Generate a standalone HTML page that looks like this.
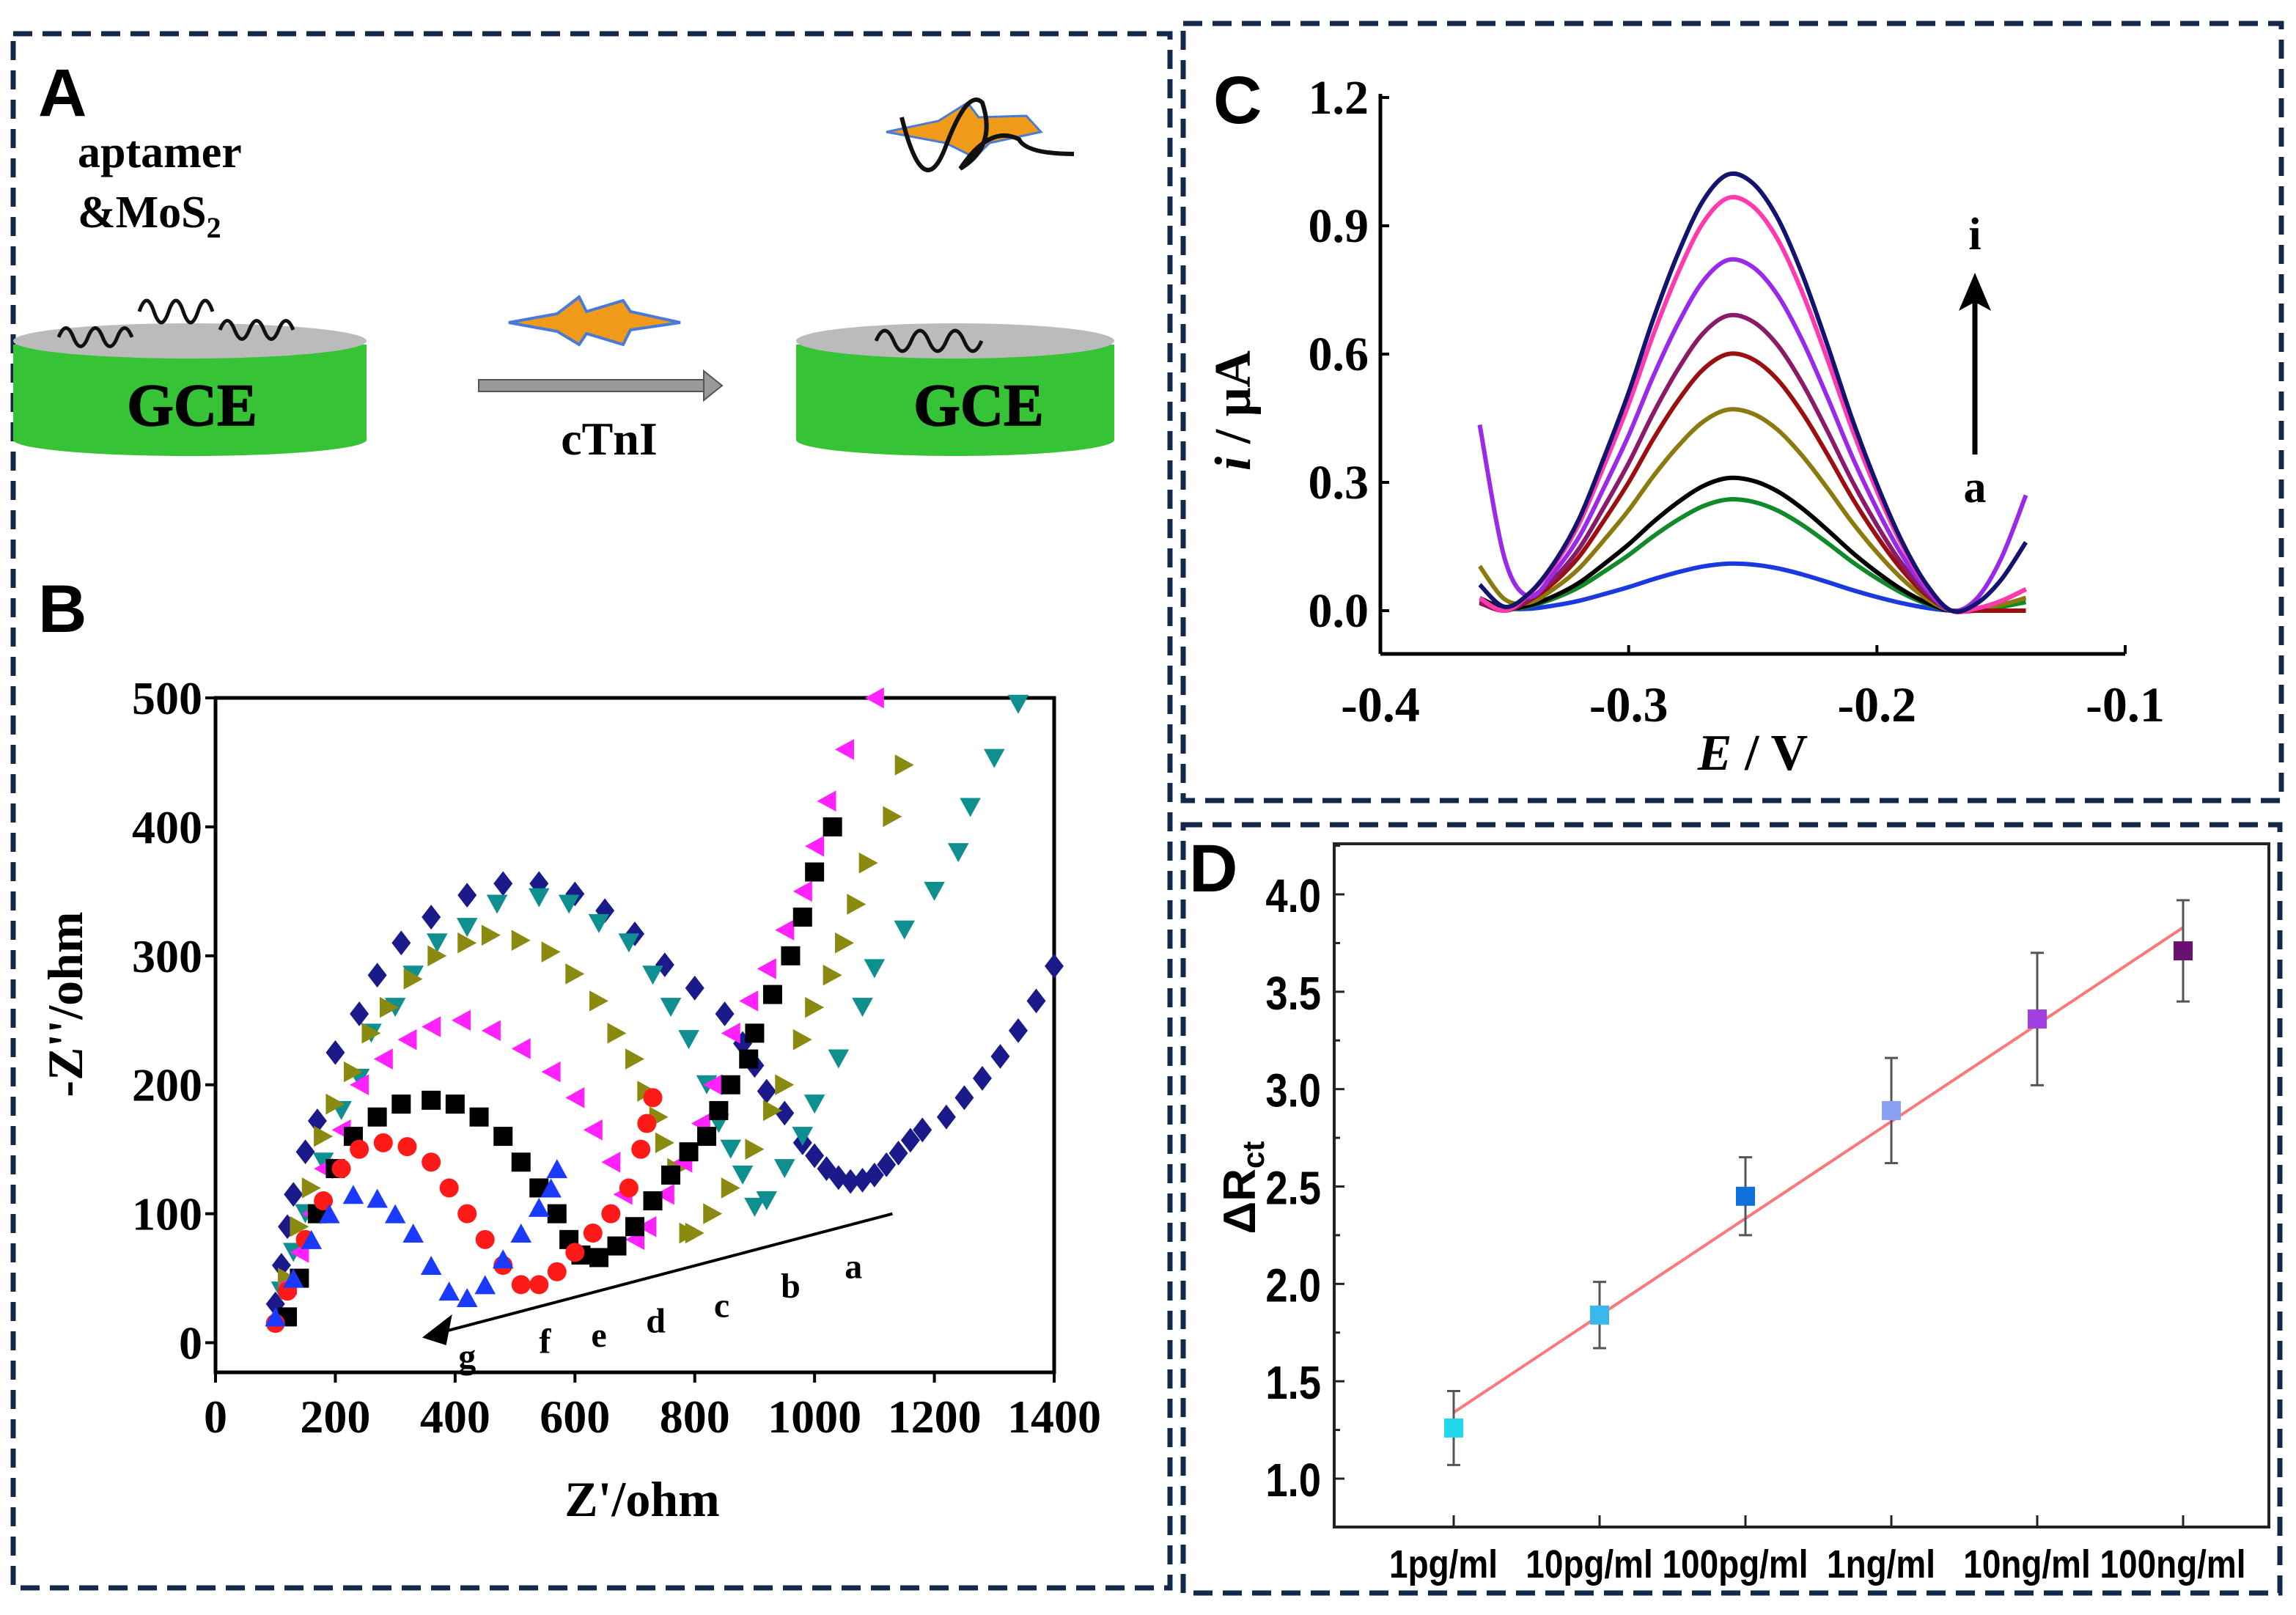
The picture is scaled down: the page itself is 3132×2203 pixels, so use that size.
<!DOCTYPE html>
<html><head><meta charset="utf-8"><style>
html,body{margin:0;padding:0;background:#fff}
svg{display:block}
.serif{font-family:"Liberation Serif",serif;font-weight:bold}
.sans{font-family:"Liberation Sans",sans-serif;font-weight:bold}
</style></head><body>
<svg id="fig" width="3132" height="2203" viewBox="0 0 3132 2203" xmlns="http://www.w3.org/2000/svg">
<rect width="3132" height="2203" fill="#fff"/>
<g fill="none" stroke="#13294b" stroke-width="7" stroke-dasharray="26,14">
<rect x="18" y="46" width="1578" height="2120"/>
<rect x="1614" y="32" width="1498" height="1060"/>
<rect x="1614" y="1125" width="1496" height="1048"/>
</g>
<!-- Panel A -->
<g>
<text class="sans" x="52" y="158" font-size="92">A</text>
<text class="serif" x="106" y="228" font-size="62">aptamer</text>
<text class="serif" x="106" y="310" font-size="62">&amp;MoS<tspan font-size="40" dy="14">2</tspan></text>
<g>
<path d="M18 470 L18 600 A240 22 0 0 0 500 600 L500 470 Z" fill="#36c336"/>
<ellipse cx="259" cy="465" rx="241" ry="24" fill="#bbb"/>
<text class="serif" x="262" y="580" font-size="82" text-anchor="middle" stroke="#000" stroke-width="1.5">GCE</text>
<path d="M80 460 q10 -25 20 0 t20 0 t20 0 t20 0 t20 0 M190 425 q10 -30 20 0 t20 0 t20 0 t20 0 t20 0 M300 450 q10 -25 20 0 t20 0 t20 0 t20 0 t20 0" fill="none" stroke="#111" stroke-width="5"/>
</g>
<g>
<path d="M1086 470 L1086 600 A217 22 0 0 0 1520 600 L1520 470 Z" fill="#36c336"/>
<ellipse cx="1303" cy="465" rx="217" ry="24" fill="#bbb"/>
<text class="serif" x="1335" y="580" font-size="82" text-anchor="middle" stroke="#000" stroke-width="1.5">GCE</text>
<path d="M1195 465 q12 -28 24 0 t24 0 t24 0 t24 0 t24 0 t24 0" fill="none" stroke="#111" stroke-width="5"/>
</g>
<g>
<rect x="653" y="518" width="310" height="16" fill="#999" stroke="#555" stroke-width="2"/>
<polygon points="960,506 985,526 960,546" fill="#999" stroke="#555" stroke-width="2"/>
</g>
<text class="serif" x="831" y="620" font-size="64" text-anchor="middle">cTnI</text>
<polygon points="694,440 760,428 790,405 800,425 850,410 860,425 928,440 860,450 850,470 800,455 790,470 760,452" fill="#f09a1a" stroke="#4a7ad8" stroke-width="4"/>
<g>
<polygon points="1209,180 1280,165 1320,140 1335,160 1400,158 1420,180 1350,195 1330,215 1290,195" fill="#f09a1a" stroke="#4a7ad8" stroke-width="3"/>
<path d="M1230 160 q30 120 60 40 q30 -80 50 -60 q20 60 -30 90 q40 -60 80 -40 q10 20 75 20" fill="none" stroke="#111" stroke-width="6"/>
</g>
</g>
<text class="sans" x="52" y="862" font-size="92">B</text>
<text class="sans" x="1655" y="168" font-size="92">C</text>
<text class="sans" x="1622" y="1216" font-size="92">D</text>
<g id="chartB"></g>
<g id="chartC"></g>
<g id="chartD"></g>
</svg>
<script>
const NS="http://www.w3.org/2000/svg";
function mk(p,tag,attrs,txt){const e=document.createElementNS(NS,tag);for(const k in attrs)e.setAttribute(k,attrs[k]);if(txt!==undefined)e.textContent=txt;p.appendChild(e);return e;}

// ---------- Panel B data ----------
const bSeriesNames=["a","b","c","d","e","f","g"];
const bXTicks=[0,200,400,600,800,1000,1200,1400];
const bYTicks=[0,100,200,300,400,500];
const bA_x=[100,110,120,130,150,170,200,240,270,310,360,420,480,540,600,650,700,750,800,850,880,900,920,950,980,1000,1020,1040,1060,1080,1100,1120,1140,1160,1180,1220,1250,1280,1310,1340,1370,1400];
const bA_y=[30,60,90,115,148,172,225,255,285,310,330,347,356,356,348,335,317,293,275,255,232,215,195,178,155,145,135,128,125,126,130,138,147,157,165,175,190,205,222,242,265,292];
const bB_x=[110,130,150,180,210,240,260,300,330,370,420,470,540,590,640,690,730,760,790,820,840,860,880,900,920,950,980,1000,1040,1080,1100,1150,1200,1240,1260,1300,1340];
const bB_y=[40,70,100,140,180,205,240,260,285,310,322,340,345,340,325,310,285,260,235,200,170,150,130,105,110,135,160,185,220,260,290,320,350,380,415,453,495];
const bC_x=[120,140,160,180,200,230,260,290,330,370,420,460,510,560,600,640,670,700,720,740,750,770,790,800,830,860,900,930,950,980,1000,1030,1050,1070,1090,1130,1150];
const bC_y=[50,90,120,160,185,210,240,260,282,300,310,316,312,303,286,265,240,220,195,175,155,135,85,85,100,120,150,180,200,235,260,285,310,340,372,408,448];
const bD_x=[120,140,160,180,210,240,280,320,360,410,460,510,560,600,630,660,680,700,720,750,780,810,830,860,890,920,950,980,1000,1020,1050,1100];
const bD_y=[45,70,100,135,165,200,220,235,245,250,242,228,210,190,165,140,115,80,90,115,140,170,200,240,265,290,320,350,385,420,460,500];
const bE_x=[120,140,170,200,230,270,310,360,400,440,480,510,540,570,590,610,640,670,700,730,760,790,820,840,860,890,900,930,960,980,1000,1030];
const bE_y=[20,50,100,135,160,175,185,188,185,175,160,140,120,100,80,68,66,75,90,110,130,148,160,180,200,220,240,270,300,330,365,400];
const bF_x=[100,120,150,180,210,240,280,320,360,390,420,450,480,510,540,570,600,630,660,690,710,720,730];
const bF_y=[15,40,80,110,135,150,155,152,140,120,100,80,60,45,45,55,70,85,100,120,150,170,190];
const bG_x=[100,130,160,190,230,270,300,330,360,390,420,450,480,510,540,560,570];
const bG_y=[20,50,80,100,115,112,100,85,60,40,35,45,65,85,105,120,135];
const bXs=[bA_x,bB_x,bC_x,bD_x,bE_x,bF_x,bG_x];
const bYs=[bA_y,bB_y,bC_y,bD_y,bE_y,bF_y,bG_y];
const bColors=["#1a1a8a","#0f8f8f","#8a8a10","#ff22ff","#000000","#ff1a1a","#1a3aff"];
const bShapes=["diamond","down","right","left","square","circle","up"];

(function(){
const g=document.getElementById('chartB');
const X0=294,X1=1438,Y0=1872,Y1=952;
const xmin=0,xmax=1400,ymin=-23,ymax=500;
const sx=v=>X0+(v-xmin)/(xmax-xmin)*(X1-X0);
const sy=v=>Y0-(v-ymin)/(ymax-ymin)*(Y0-Y1);
const fr=mk(g,'rect',{x:X0,y:Y1,width:X1-X0,height:Y0-Y1,fill:'none',stroke:'#000','stroke-width':5});

bXTicks.forEach(t=>{mk(g,'line',{x1:sx(t),x2:sx(t),y1:Y0,y2:Y0+14,stroke:'#000','stroke-width':4});
 const l=mk(g,'text',{x:sx(t),y:Y0+82,'font-size':64,'text-anchor':'middle',class:'serif'},t);
 });
bYTicks.forEach(t=>{mk(g,'line',{x1:X0-14,x2:X0,y1:sy(t),y2:sy(t),stroke:'#000','stroke-width':4});
 const l=mk(g,'text',{x:X0-18,y:sy(t)+22,'font-size':64,'text-anchor':'end',class:'serif'},t);
 });
const xt=mk(g,'text',{x:(X0+X1)/2+10,y:2068,'font-size':68,'text-anchor':'middle',class:'serif'},"Z'/ohm");

const yt=mk(g,'text',{x:0,y:0,'font-size':68,'text-anchor':'middle',class:'serif',transform:'translate(112,1370) rotate(-90)'},"-Z''/ohm");

const s=13;
bXs.forEach((xs,si)=>{
 const sg=mk(g,'g',{fill:bColors[si]});
 
 xs.forEach((xv,i)=>{const cx=sx(xv),cy=sy(bYs[si][i]);let m;
  switch(bShapes[si]){
   case 'diamond':m=mk(sg,'polygon',{points:`${cx},${cy-s*1.3} ${cx+s},${cy} ${cx},${cy+s*1.3} ${cx-s},${cy}`});break;
   case 'down':m=mk(sg,'polygon',{points:`${cx-s*1.1},${cy-s} ${cx+s*1.1},${cy-s} ${cx},${cy+s}`});break;
   case 'up':m=mk(sg,'polygon',{points:`${cx-s*1.1},${cy+s} ${cx+s*1.1},${cy+s} ${cx},${cy-s}`});break;
   case 'right':m=mk(sg,'polygon',{points:`${cx-s},${cy-s*1.1} ${cx-s},${cy+s*1.1} ${cx+s},${cy}`});break;
   case 'left':m=mk(sg,'polygon',{points:`${cx+s},${cy-s*1.1} ${cx+s},${cy+s*1.1} ${cx-s},${cy}`});break;
   case 'square':m=mk(sg,'rect',{x:cx-s,y:cy-s,width:2*s,height:2*s});break;
   default:m=mk(sg,'circle',{cx:cx,cy:cy,r:s});}
  });
});
const ar=mk(g,'g',{});
mk(ar,'line',{x1:sx(1130),y1:sy(100),x2:sx(360),y2:sy(6),stroke:'#000','stroke-width':4});
mk(ar,'polygon',{points:`${sx(345)},${sy(4)} ${sx(395)},${sy(22)} ${sx(385)},${sy(-2)}`,fill:'#000'});
const lab=[["a",1065,50],["b",960,35],["c",845,20],["d",735,8],["e",640,-3],["f",550,-8],["g",420,-20]];
lab.forEach(l=>{const t=mk(g,'text',{x:sx(l[1]),y:sy(l[2]),'font-size':48,'text-anchor':'middle',class:'serif'},l[0]);
 });
})();

// ---------- Panel C data ----------
const cE=[-0.36,-0.35,-0.34,-0.33,-0.32,-0.31,-0.30,-0.29,-0.28,-0.27,-0.26,-0.25,-0.24,-0.23,-0.22,-0.21,-0.20,-0.19,-0.18,-0.17,-0.16,-0.15,-0.14];
const cShape=[0.03,0,0.04,0.11,0.21,0.35,0.5,0.67,0.82,0.94,1.0,0.98,0.9,0.77,0.61,0.44,0.29,0.16,0.06,0,0,0,0];
const cPeaks=[0.11,0.26,0.31,0.47,0.60,0.69,0.82,0.965,1.02];
const cLeftEnd=[0.02,0.01,0.02,0.09,0.0,0.0,0.41,0.0,0.03];
const cRightEnd=[0.0,0.02,0.05,0.03,0.0,0.05,0.27,0.05,0.16];
const cColors=["#1a3ae0","#128a2a","#000000","#8a7a10","#9a1010","#8a1a6a","#9a2ae8","#ff3ab0","#14146e"];
const cNames=["a","b","c","d","e","f","g","h","i"];
const cXTicks=[-0.4,-0.3,-0.2,-0.1];
const cYTicks=[0.0,0.3,0.6,0.9,1.2];
(function(){
const g=document.getElementById('chartC');
const X0=1883,X1=2899,Y0=892,Yz=833,Ytop=133;
const sx=v=>X0+(v+0.4)/0.3*(X1-X0);
const sy=v=>Yz-v/1.2*(Yz-Ytop);
mk(g,'line',{x1:X0,y1:Ytop-5,x2:X0,y2:Y0,stroke:'#000','stroke-width':5});
mk(g,'line',{x1:X0,y1:Y0,x2:X1,y2:Y0,stroke:'#000','stroke-width':5});
cXTicks.forEach(t=>{mk(g,'line',{x1:sx(t),x2:sx(t),y1:Y0,y2:Y0-12,stroke:'#000','stroke-width':4});
 const l=mk(g,'text',{x:sx(t),y:Y0+92,'font-size':68,'text-anchor':'middle',class:'serif'},t.toFixed(1));
 });
cYTicks.forEach(t=>{mk(g,'line',{x1:X0,x2:X0+12,y1:sy(t),y2:sy(t),stroke:'#000','stroke-width':4});
 const l=mk(g,'text',{x:X0-16,y:sy(t)+22,'font-size':66,'text-anchor':'end',class:'serif'},t.toFixed(1));
 });
const xt=mk(g,'text',{x:2391,y:1050,'font-size':70,'text-anchor':'middle',class:'serif'});
xt.innerHTML='<tspan font-style="italic">E</tspan> / V';

const yt=mk(g,'text',{x:0,y:0,'font-size':70,'text-anchor':'middle',class:'serif',transform:'translate(1705,560) rotate(-90)'});
yt.innerHTML='<tspan font-style="italic">i</tspan> / μA';

cPeaks.forEach((pk,si)=>{
 const n=cE.length;
 const pts=cE.map((e,i)=>{let v=pk*cShape[i];
   if(i===0)v+=cLeftEnd[si];if(i===1)v+=cLeftEnd[si]*0.3;
   if(i===n-1)v+=cRightEnd[si];if(i===n-2)v+=cRightEnd[si]*0.45;if(i===n-3)v+=cRightEnd[si]*0.1;
   return [sx(e),sy(v)];});
 let d='M'+pts[0][0]+' '+pts[0][1];
 for(let i=0;i<pts.length-1;i++){const p0=pts[Math.max(0,i-1)],p1=pts[i],p2=pts[i+1],p3=pts[Math.min(pts.length-1,i+2)];
  d+=` C${p1[0]+(p2[0]-p0[0])/6} ${p1[1]+(p2[1]-p0[1])/6} ${p2[0]-(p3[0]-p1[0])/6} ${p2[1]-(p3[1]-p1[1])/6} ${p2[0]} ${p2[1]}`;}
 const p=mk(g,'path',{d:d,fill:'none',stroke:cColors[si],'stroke-width':6});
 
});
const ar=mk(g,'g',{});
mk(ar,'line',{x1:2694,y1:620,x2:2694,y2:410,stroke:'#000','stroke-width':7});
mk(ar,'polygon',{points:'2694,372 2672,424 2694,412 2716,424',fill:'#000'});
const ti=mk(g,'text',{x:2694,y:340,'font-size':62,'text-anchor':'middle',class:'serif'},'i');

const ta=mk(g,'text',{x:2694,y:685,'font-size':62,'text-anchor':'middle',class:'serif'},'a');

})();

// ---------- Panel D data ----------
const dCats=["1pg/ml","10pg/ml","100pg/ml","1ng/ml","10ng/ml","100ng/ml"];
const dVals=[1.26,1.84,2.45,2.89,3.36,3.71];
const dErr=[0.19,0.17,0.20,0.27,0.34,0.26];
const dFit=[1.34,3.83];
const dYTicks=[1.0,1.5,2.0,2.5,3.0,3.5,4.0];
const dColors=["#22d8ec","#38b8ec","#1070dc","#8aa0f0","#a040e0","#6a1070"];
(function(){
const g=document.getElementById('chartD');
const X0=1820,X1=3095,Yb=2083,Yt=1151;
const sx=i=>1983+i*199;
const sy=v=>2017-(v-1.0)/3.0*(2017-1220);
const fr=mk(g,'rect',{x:X0,y:Yt,width:X1-X0,height:Yb-Yt,fill:'none',stroke:'#222','stroke-width':4});

dYTicks.forEach(t=>{mk(g,'line',{x1:X0,x2:X0+14,y1:sy(t),y2:sy(t),stroke:'#222','stroke-width':3});
 mk(g,'line',{x1:X0,x2:X0+8,y1:sy(t+0.25),y2:sy(t+0.25),stroke:'#222','stroke-width':3});
 const l=mk(g,'text',{x:0,y:0,'font-size':64,'text-anchor':'end',class:'sans',transform:`translate(${X0-18},${sy(t)+24}) scale(0.85,1)`},t.toFixed(1));
 });
dCats.forEach((c,i)=>{mk(g,'line',{x1:sx(i),x2:sx(i),y1:Yb,y2:Yb-16,stroke:'#222','stroke-width':3});
 const l=mk(g,'text',{x:0,y:0,'font-size':54,'text-anchor':'middle',class:'sans',transform:`translate(${sx(i)-14},2152) scale(0.85,1)`},c);
 });
const yt=mk(g,'text',{x:0,y:0,'font-size':62,'text-anchor':'middle',class:'sans',transform:'translate(1712,1620) rotate(-90)'});
yt.innerHTML='ΔR<tspan font-size="42" dy="12">ct</tspan>';

const fl=mk(g,'line',{x1:sx(0),y1:sy(dFit[0]),x2:sx(dCats.length-1),y2:sy(dFit[1]),stroke:'#f77','stroke-width':4});

dVals.forEach((v,i)=>{
 const eb=mk(g,'g',{stroke:'#555','stroke-width':3});
 
 mk(eb,'line',{x1:sx(i),x2:sx(i),y1:sy(v-dErr[i]),y2:sy(v+dErr[i])});
 mk(eb,'line',{x1:sx(i)-9,x2:sx(i)+9,y1:sy(v-dErr[i]),y2:sy(v-dErr[i])});
 mk(eb,'line',{x1:sx(i)-9,x2:sx(i)+9,y1:sy(v+dErr[i]),y2:sy(v+dErr[i])});
 const r=mk(g,'rect',{x:sx(i)-13,y:sy(v)-13,width:26,height:26,fill:dColors[i]});
 
});
})();
</script>
</body></html>
